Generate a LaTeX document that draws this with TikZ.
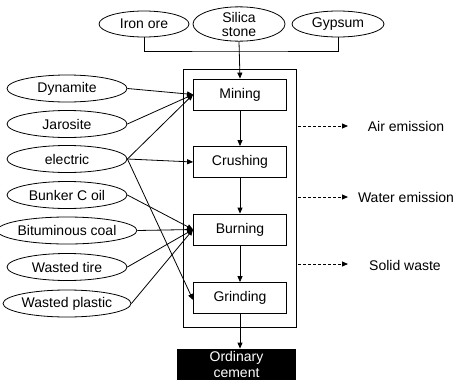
\documentclass[tikz,border=0pt]{standalone}
\usepackage{fontspec}
\setmainfont{Liberation Sans}
\usetikzlibrary{shapes.geometric,arrows.meta}
\begin{document}
\begin{tikzpicture}[x=1pt,y=-1pt,
  font=\fontsize{14}{15}\selectfont,
  line width=0.8pt,
  src/.style={draw, ellipse, inner sep=0pt, minimum width=120pt, minimum height=27pt},
  top/.style={draw, ellipse, inner sep=0pt, minimum width=90pt, minimum height=26pt, align=center, font=\fontsize{14}{14}\selectfont},
  stage/.style={draw, rectangle, inner sep=0pt, minimum width=93pt, minimum height=31pt},
  arr/.style={-{Triangle[length=6pt,width=5pt]}},
  emis/.style={dashed, dash pattern=on 3pt off 2pt, -{Triangle[length=6pt,width=5pt]}}
]
\useasboundingbox (0,0) rectangle (455,383);

% raw materials on top
\node[top] (iron) at (144,24) {Iron ore};
\node[top, minimum width=92pt, minimum height=27pt] (silica) at (239,24) {Silica\\stone};
\node[top, minimum width=92pt] (gyps) at (338,24) {Gypsum};

% plant boundary and stages
\node[draw, rectangle, minimum width=113pt, minimum height=258pt, inner sep=0pt] (plant) at (239.5,198) {};
\node[stage] (mining) at (240,94.5) {Mining};
\node[stage] (crush) at (240,162) {Crushing};
\node[stage] (burn) at (240,229.5) {Burning};
\node[stage] (grind) at (240,298) {Grinding};

% product
\node[fill=black, text=white, minimum width=119pt, minimum height=31pt, inner sep=0pt,
      align=center, font=\fontsize{14}{16}\selectfont] (cement) at (236.5,364.5) {Ordinary\\cement};

% inputs on the left
\node[src] (dyn) at (67,88.5) {Dynamite};
\node[src] (jar) at (67,124) {Jarosite};
\node[src] (elec) at (67,159) {electric};
\node[src] (bunk) at (67,195) {Bunker C oil};
\node[src] (bitu) at (67,230.5) {Bituminous coal};
\node[src] (tire) at (67,267) {Wasted tire};
\node[src] (plas) at (67,303.5) {Wasted plastic};

% emissions on the right
\node (air) at (406,126) {Air emission};
\node (water) at (406,197) {Water emission};
\node (solid) at (405,265) {Solid waste};
\coordinate (a0) at (298,126);
\coordinate (a1) at (348,126);
\coordinate (w0) at (298,197);
\coordinate (w1) at (348,197);
\coordinate (s0) at (298,264);
\coordinate (s1) at (348,264);
\draw[emis] (a0) -- (a1);
\draw[emis] (w0) -- (w1);
\draw[emis] (s0) -- (s1);

% material collector
\coordinate (join) at (239,51);
\draw (iron.south) |- (join) -| (gyps.south);
\draw[arr] (silica.south) -- (mining.north);

% process chain
\draw[arr] (mining) -- (crush);
\draw[arr] (crush) -- (burn);
\draw[arr] (burn) -- (grind);
\draw[arr] (grind) -- (grind.south |- cement.north);

% input flows
\draw[arr] (dyn.east) -- (mining.west);
\draw[arr] (jar.east) -- (mining.west);
\draw[arr] (elec.east) -- (mining.west);
\draw[arr] (elec.east) -- (crush.west);
\draw[arr] (elec.east) -- ([yshift=-2pt]grind.west);
\draw[arr] (bunk.east) -- (burn.west);
\draw[arr] (bitu.east) -- (burn.west);
\draw[arr] (tire.east) -- (burn.west);
\draw[arr] (plas.east) -- (burn.west);
\end{tikzpicture}
\end{document}
